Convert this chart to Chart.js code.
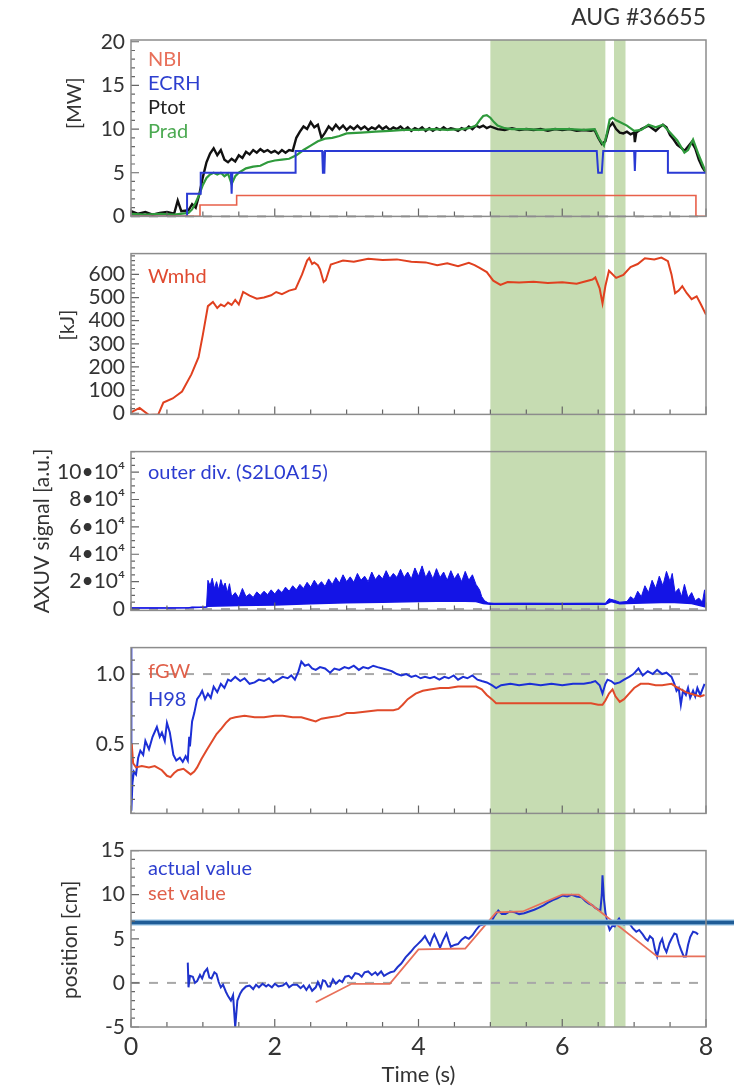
<!DOCTYPE html>
<html>
<head>
<meta charset="utf-8">
<script src="https://cdn.jsdelivr.net/npm/chart.js@4.4.1/dist/chart.umd.min.js"></script>
<style>
  body { margin: 0; background: #fff; }
  #wrap { position: relative; width: 742px; height: 1091px; }
  #wrap canvas { position: absolute; left: 0; }
</style>
</head>
<body>
<div id="wrap">
  <canvas id="power" width="742" height="235" style="top:0px"></canvas>
  <canvas id="energy" width="742" height="198" style="top:235px"></canvas>
  <canvas id="axuv" width="742" height="196" style="top:433px"></canvas>
  <canvas id="ratio" width="742" height="203" style="top:629px"></canvas>
  <canvas id="position" width="742" height="259" style="top:832px"></canvas>
</div>
<script>
// time windows shaded green (s)
const bandStart = [5.0, 6.72];
const bandEnd = [6.6, 6.88];

// tick labels
const timeTicks = [0, 2, 4, 6, 8];
const powerTicks = [0, 5, 10, 15, 20];
const energyTicks = [0, 100, 200, 300, 400, 500, 600];
const axuvTicks = [0, 20000, 40000, 60000, 80000, 100000];
const ratioTicks = [0.5, 1.0];
const positionTicks = [-5, 0, 5, 10, 15];

// heating power [MW], pairs of [time, value]
const nbi = [[0,0],[0.96,0],[0.96,1.3],[1.47,1.3],[1.47,2.4],[7.86,2.4],[7.86,0],[8,0]];
const ecrh = [[0,0],[0.78,0],[0.78,2.6],[0.97,2.6],[0.97,5.0],[1.39,5.0],[1.40,2.6],[1.41,5.0],[2.29,5.0],[2.29,7.5],
  [2.66,7.5],[2.67,5.0],[2.69,5.0],[2.70,7.5],[6.48,7.5],[6.50,5.0],[6.55,5.0],[6.57,7.5],[7.00,7.5],[7.01,5.2],
  [7.02,7.5],[7.47,7.5],[7.47,5.0],[8.0,5.0]];
const ptot = [[0,0.6],[0.1,0.3],[0.2,0.5],[0.3,0.2],[0.4,0.4],[0.5,0.5],[0.6,0.3],[0.65,1.8],[0.7,0.6],[0.8,0.7],
  [0.85,1.4],[0.9,1.0],[0.95,2.5],[1.0,4.5],[1.05,6.2],[1.1,7.2],[1.15,7.8],[1.2,7.0],[1.25,7.6],[1.3,6.5],
  [1.35,6.2],[1.4,6.6],[1.45,6.3],[1.5,7.0],[1.55,6.7],[1.6,7.4],[1.65,7.1],[1.7,7.6],[1.75,7.3],[1.8,7.7],
  [1.85,7.4],[1.9,7.6],[1.95,7.3],[2.0,7.5],[2.05,7.2],[2.1,7.6],[2.15,7.3],[2.2,7.6],[2.25,7.5],[2.3,9.0],
  [2.35,9.7],[2.4,10.3],[2.45,10.0],[2.5,10.8],[2.55,10.2],[2.6,10.5],[2.65,9.0],[2.7,9.6],[2.75,10.3],[2.8,9.9],
  [2.85,10.5],[2.9,10.0],[2.95,10.4],[3.0,9.9],[3.05,10.3],[3.1,10.0],[3.15,10.4],[3.2,10.0],[3.25,10.3],[3.3,9.9],
  [3.35,10.2],[3.4,10.0],[3.45,10.4],[3.5,10.0],[3.55,10.3],[3.6,9.9],[3.65,10.2],[3.7,10.0],[3.75,10.3],[3.8,9.9],
  [3.85,10.2],[3.9,9.8],[3.95,10.1],[4.0,9.9],[4.05,10.2],[4.1,9.8],[4.15,10.1],[4.2,9.8],[4.25,10.1],[4.3,9.9],
  [4.35,10.2],[4.4,9.9],[4.45,10.1],[4.5,10.0],[4.55,9.8],[4.6,10.1],[4.65,9.9],[4.7,10.3],[4.75,10.0],[4.8,10.4],
  [4.85,10.2],[4.9,10.4],[4.95,10.1],[5.0,10.3],[5.1,10.0],[5.2,9.9],[5.3,10.1],[5.4,9.9],[5.5,10.0],[5.6,9.9],
  [5.7,10.0],[5.8,9.8],[5.9,10.0],[6.0,9.9],[6.1,10.0],[6.2,9.8],[6.3,9.9],[6.4,9.8],[6.45,9.9],[6.5,9.0],
  [6.55,8.3],[6.6,8.6],[6.65,10.2],[6.7,10.7],[6.75,10.0],[6.8,9.6],[6.85,9.5],[6.9,9.7],[6.95,9.4],[7.0,9.6],
  [7.01,8.5],[7.03,9.6],[7.1,10.0],[7.2,10.4],[7.25,10.1],[7.3,9.8],[7.35,10.2],[7.4,10.5],[7.45,10.2],[7.5,9.3],
  [7.55,8.8],[7.6,8.2],[7.65,7.9],[7.7,7.5],[7.75,8.0],[7.8,8.5],[7.85,7.8],[7.9,6.5],[7.95,5.6],[8.0,5.0]];
const prad = [[0,0.3],[0.2,0.2],[0.4,0.3],[0.6,0.2],[0.8,0.4],[0.85,0.8],[0.9,1.6],[0.95,2.5],[1.0,3.6],[1.05,4.4],
  [1.1,4.8],[1.15,5.0],[1.2,4.8],[1.25,5.0],[1.3,4.6],[1.35,4.9],[1.4,3.7],[1.45,4.6],[1.5,5.0],[1.6,5.5],
  [1.7,5.7],[1.8,5.8],[1.9,6.2],[2.0,6.4],[2.1,6.5],[2.2,6.6],[2.3,7.0],[2.4,7.6],[2.5,8.1],[2.6,8.6],
  [2.7,8.9],[2.8,9.0],[2.9,9.2],[3.0,9.5],[3.2,9.6],[3.4,9.7],[3.6,9.8],[3.8,9.9],[4.0,9.9],[4.2,10.0],
  [4.4,9.9],[4.6,10.0],[4.7,10.1],[4.8,10.4],[4.85,11.0],[4.9,11.5],[4.95,11.6],[5.0,11.3],[5.05,10.8],[5.1,10.4],
  [5.2,10.1],[5.3,10.0],[5.5,10.0],[5.7,9.9],[5.9,10.0],[6.1,10.0],[6.3,9.9],[6.45,10.0],[6.52,8.8],[6.58,8.1],
  [6.62,9.5],[6.66,11.1],[6.7,11.3],[6.75,11.0],[6.8,10.8],[6.9,10.4],[7.0,9.8],[7.1,9.9],[7.2,10.5],[7.3,10.2],
  [7.4,10.5],[7.5,9.6],[7.6,8.7],[7.7,7.3],[7.75,7.6],[7.82,8.8],[7.9,7.0],[8.0,5.0]];

// stored energy [kJ]
const wmhd = [[0,4],[0.12,23],[0.25,-8],[0.38,-5],[0.45,46],[0.58,64],[0.71,94],[0.84,168],[0.94,242],[1.0,340],
  [1.07,463],[1.14,481],[1.2,455],[1.25,470],[1.3,462],[1.35,478],[1.4,468],[1.45,490],[1.5,470],[1.56,524],
  [1.65,508],[1.75,495],[1.85,500],[1.95,510],[2.02,524],[2.1,515],[2.2,530],[2.29,537],[2.38,600],[2.45,660],
  [2.48,671],[2.52,645],[2.55,652],[2.6,640],[2.63,622],[2.68,567],[2.71,575],[2.78,643],[2.85,650],[2.95,660],
  [3.1,655],[3.3,668],[3.5,662],[3.7,665],[3.9,655],[4.1,652],[4.26,640],[4.4,648],[4.55,636],[4.7,650],
  [4.78,640],[4.85,628],[4.95,610],[5.04,573],[5.14,555],[5.24,567],[5.4,565],[5.6,568],[5.8,563],[6.0,566],
  [6.2,560],[6.42,578],[6.46,587],[6.52,540],[6.56,475],[6.6,550],[6.65,616],[6.75,585],[6.85,598],[6.95,632],
  [7.05,645],[7.15,670],[7.28,665],[7.38,673],[7.47,657],[7.52,600],[7.57,519],[7.62,530],[7.67,549],[7.73,520],
  [7.8,493],[7.87,505],[7.93,470],[8.0,426]];

// AXUV outer divertor signal [a.u.]: spiky upper edge and lower edge
const axuvHigh = [[0,800],[0.5,700],[0.8,900],[0.85,1500],[0.95,1200],[1.05,1500],[1.07,21000],[1.1,17000],
  [1.13,22500],[1.16,15000],[1.19,20000],[1.22,14000],[1.25,21500],[1.28,16000],[1.31,19000],[1.34,12000],
  [1.37,18500],[1.4,9000],[1.45,12000],[1.5,8000],[1.55,15000],[1.6,9000],[1.65,11000],[1.7,8500],[1.75,12500],
  [1.8,10000],[1.85,13000],[1.9,10500],[1.95,14000],[2.0,11000],[2.05,14500],[2.1,12000],[2.15,16000],[2.2,13000],
  [2.25,17000],[2.3,14000],[2.35,18000],[2.4,15000],[2.45,19500],[2.5,16000],[2.55,21000],[2.6,17000],[2.65,20000],
  [2.7,16500],[2.75,22000],[2.8,18000],[2.85,23000],[2.9,19000],[2.95,25000],[3.0,20000],[3.05,23500],[3.1,19500],
  [3.15,26000],[3.2,21000],[3.25,24000],[3.3,20000],[3.35,27000],[3.4,21500],[3.45,25000],[3.5,22000],[3.55,28000],
  [3.6,22500],[3.65,26000],[3.7,23000],[3.75,29000],[3.8,23000],[3.85,27000],[3.9,22000],[3.95,30000],[4.0,24000],
  [4.05,31500],[4.1,23000],[4.15,28000],[4.2,22000],[4.25,29500],[4.3,23000],[4.35,27000],[4.4,21000],[4.45,28000],
  [4.5,22000],[4.55,26000],[4.6,20000],[4.65,27500],[4.7,21000],[4.75,25000],[4.8,18000],[4.85,14000],[4.88,9000],
  [4.92,6000],[4.97,4500],[5.05,4200],[5.5,4300],[6.0,4200],[6.5,4300],[6.6,4200],[6.65,7500],[6.72,6500],
  [6.8,5000],[6.9,5500],[6.95,9000],[7.0,7000],[7.05,13000],[7.1,9000],[7.15,17000],[7.2,12000],[7.25,21000],
  [7.3,15000],[7.35,24000],[7.4,17000],[7.45,27500],[7.5,20000],[7.53,26000],[7.57,12000],[7.62,15000],[7.66,9000],
  [7.7,18000],[7.75,8000],[7.8,12000],[7.85,6000],[7.9,8000],[7.95,5000],[7.98,14000],[8.0,4000]];
const axuvLow = [[0,800],[0.8,900],[1.05,1500],[1.07,2000],[1.5,2500],[2.0,3000],[2.5,3800],[3.0,4500],[3.5,5000],
  [4.0,5500],[4.5,5800],[4.8,5500],[4.9,4000],[5.0,3500],[6.6,3500],[6.68,5500],[6.8,3800],[7.0,4200],[7.5,5000],
  [7.8,4000],[8.0,1500]];

// Greenwald fraction and confinement factor
const fgw = [[0.01,0.5],[0.03,0.36],[0.07,0.33],[0.15,0.34],[0.25,0.33],[0.33,0.34],[0.43,0.31],[0.5,0.27],[0.55,0.26],
  [0.6,0.29],[0.65,0.31],[0.73,0.32],[0.78,0.3],[0.83,0.28],[0.88,0.3],[0.92,0.33],[0.98,0.39],[1.06,0.46],[1.12,0.51],
  [1.19,0.57],[1.26,0.61],[1.32,0.65],[1.38,0.68],[1.45,0.69],[1.58,0.7],[1.72,0.69],[1.85,0.69],[2.0,0.7],[2.11,0.7],
  [2.25,0.69],[2.37,0.69],[2.5,0.67],[2.57,0.66],[2.65,0.68],[2.77,0.69],[2.9,0.7],[3.0,0.72],[3.1,0.72],[3.25,0.73],
  [3.43,0.74],[3.55,0.74],[3.65,0.74],[3.72,0.75],[3.78,0.78],[3.85,0.82],[3.96,0.86],[4.06,0.88],[4.16,0.89],[4.3,0.9],
  [4.42,0.9],[4.55,0.91],[4.68,0.91],[4.8,0.91],[4.88,0.89],[4.95,0.85],[5.02,0.82],[5.08,0.79],[5.2,0.79],[5.4,0.79],
  [5.6,0.79],[5.8,0.79],[6.0,0.79],[6.2,0.79],[6.4,0.79],[6.5,0.78],[6.56,0.78],[6.6,0.81],[6.65,0.86],[6.7,0.89],
  [6.74,0.84],[6.8,0.8],[6.86,0.82],[6.93,0.86],[7.0,0.9],[7.09,0.93],[7.2,0.93],[7.3,0.92],[7.39,0.92],[7.52,0.93],
  [7.58,0.91],[7.65,0.89],[7.72,0.87],[7.78,0.86],[7.85,0.85],[7.92,0.84],[7.98,0.85]];
const h98 = [[0,1.2],[0.005,0.02],[0.02,0.22],[0.04,0.3],[0.07,0.28],[0.1,0.4],[0.13,0.45],[0.17,0.42],[0.2,0.52],
  [0.25,0.46],[0.3,0.55],[0.36,0.62],[0.4,0.55],[0.43,0.58],[0.47,0.52],[0.5,0.65],[0.54,0.58],[0.59,0.42],[0.63,0.38],
  [0.68,0.4],[0.72,0.37],[0.76,0.41],[0.79,0.38],[0.81,0.55],[0.82,0.48],[0.85,0.66],[0.88,0.72],[0.92,0.82],[0.96,0.85],
  [0.99,0.88],[1.03,0.82],[1.07,0.86],[1.11,0.83],[1.15,0.91],[1.2,0.87],[1.25,0.93],[1.3,0.9],[1.35,0.96],[1.39,0.95],
  [1.45,0.98],[1.52,0.95],[1.58,0.97],[1.65,0.93],[1.72,0.94],[1.78,0.96],[1.85,0.95],[1.92,0.97],[1.98,0.94],[2.05,0.96],
  [2.11,0.98],[2.18,0.97],[2.23,0.99],[2.28,0.96],[2.33,1.02],[2.37,1.09],[2.42,1.06],[2.47,1.07],[2.52,1.04],[2.57,1.03],
  [2.63,1.05],[2.7,1.04],[2.77,1.01],[2.83,1.04],[2.9,1.03],[2.97,1.05],[3.03,1.04],[3.1,1.06],[3.17,1.03],[3.23,1.05],
  [3.3,1.04],[3.37,1.06],[3.43,1.05],[3.5,1.04],[3.57,1.03],[3.63,1.02],[3.7,1.0],[3.76,0.99],[3.83,1.0],[3.9,0.98],
  [3.96,0.99],[4.03,0.97],[4.09,0.98],[4.16,0.97],[4.22,0.98],[4.29,0.96],[4.36,0.98],[4.42,0.97],[4.49,0.99],[4.55,0.96],
  [4.62,0.98],[4.68,0.97],[4.75,0.99],[4.82,0.96],[4.88,0.95],[4.95,0.94],[5.02,0.92],[5.08,0.9],[5.15,0.92],[5.28,0.93],
  [5.4,0.92],[5.55,0.93],[5.7,0.92],[5.85,0.93],[6.0,0.92],[6.15,0.93],[6.3,0.93],[6.4,0.94],[6.46,0.95],[6.52,0.92],
  [6.56,0.86],[6.6,0.93],[6.63,0.96],[6.68,0.95],[6.73,0.93],[6.8,0.94],[6.86,0.96],[6.93,0.98],[6.99,1.0],[7.06,1.04],
  [7.12,0.99],[7.19,1.02],[7.26,1.0],[7.32,1.03],[7.39,1.0],[7.45,1.01],[7.52,0.98],[7.56,0.93],[7.59,0.88],[7.62,0.9],
  [7.65,0.78],[7.68,0.88],[7.72,0.85],[7.75,0.9],[7.78,0.83],[7.82,0.88],[7.85,0.84],[7.88,0.9],[7.92,0.85],[7.95,0.89],
  [7.98,0.93]];

// strike point position [cm]
const posActual = [[0.79,2.3],[0.8,-0.5],[0.82,0.8],[0.86,0.7],[0.89,0.0],[0.92,0.2],[0.96,0.9],[0.99,0.5],[1.02,1.2],
  [1.06,1.6],[1.09,0.6],[1.12,0.5],[1.16,1.2],[1.19,1.0],[1.22,0.1],[1.25,-0.5],[1.28,-0.2],[1.32,-1.0],[1.35,-1.5],
  [1.39,-2.0],[1.42,-1.4],[1.45,-5.0],[1.48,-2.0],[1.52,-1.2],[1.55,-0.8],[1.6,-0.4],[1.65,-0.3],[1.7,-0.7],[1.74,-0.2],
  [1.78,-0.5],[1.83,-0.1],[1.88,-0.4],[1.91,-0.2],[1.96,-0.5],[2.0,-0.1],[2.05,-0.4],[2.11,-0.3],[2.16,0.0],[2.2,-0.5],
  [2.25,-0.2],[2.31,-0.2],[2.36,-0.6],[2.4,-0.3],[2.44,-0.8],[2.48,-0.3],[2.52,-0.9],[2.57,-0.5],[2.6,0.1],[2.64,-0.6],
  [2.67,0.3],[2.7,0.2],[2.74,-0.4],[2.77,-0.4],[2.81,0.4],[2.85,-0.1],[2.9,0.3],[2.94,0.1],[2.98,0.7],[3.03,0.8],
  [3.07,0.5],[3.12,1.1],[3.17,1.0],[3.21,0.7],[3.25,1.2],[3.3,1.3],[3.35,0.9],[3.4,1.2],[3.43,0.9],[3.48,1.3],
  [3.52,0.8],[3.56,1.0],[3.61,1.2],[3.66,1.3],[3.71,1.8],[3.76,2.2],[3.82,2.9],[3.89,3.5],[3.94,4.0],[3.99,4.4],
  [4.04,4.8],[4.09,5.3],[4.13,4.7],[4.16,4.3],[4.19,5.0],[4.22,5.5],[4.26,4.8],[4.3,4.0],[4.34,4.8],[4.39,5.6],
  [4.42,4.8],[4.45,4.1],[4.5,4.3],[4.55,4.4],[4.6,4.9],[4.65,5.2],[4.7,5.0],[4.75,5.4],[4.8,6.0],[4.85,6.5],
  [4.9,6.6],[4.95,6.9],[5.0,6.7],[5.05,7.5],[5.11,8.2],[5.16,7.8],[5.21,7.8],[5.27,8.1],[5.34,8.0],[5.4,7.8],
  [5.47,7.9],[5.54,8.1],[5.61,8.3],[5.67,8.5],[5.74,8.8],[5.8,9.1],[5.87,9.4],[5.93,9.6],[6.0,9.9],[6.07,9.8],
  [6.13,10.0],[6.2,9.8],[6.27,9.7],[6.32,9.3],[6.37,9.0],[6.42,8.8],[6.46,8.5],[6.5,8.3],[6.53,8.2],[6.55,10.0],
  [6.56,12.2],[6.58,9.5],[6.6,8.0],[6.63,6.8],[6.66,6.0],[6.7,6.5],[6.73,6.4],[6.76,7.0],[6.79,7.3],[6.83,6.7],
  [6.86,6.6],[6.9,6.9],[6.93,6.8],[6.98,6.2],[7.03,5.8],[7.07,6.0],[7.12,5.5],[7.16,5.0],[7.19,4.8],[7.22,5.3],
  [7.26,5.0],[7.29,3.8],[7.32,3.0],[7.36,4.5],[7.39,5.0],[7.42,4.0],[7.45,3.5],[7.49,4.5],[7.52,5.0],[7.56,5.6],
  [7.59,5.5],[7.62,4.5],[7.65,3.8],[7.69,3.0],[7.72,3.0],[7.75,4.3],[7.78,5.2],[7.82,5.8],[7.86,5.7],[7.89,5.5]];
const posSet = [[2.57,-2.2],[3.07,-0.1],[3.6,-0.1],[4.0,3.8],[4.65,3.9],[5.08,8.0],[5.45,8.1],[6.0,10.0],[6.23,10.0],
  [7.32,3.0],[8.0,3.0]];
const limitPosition = 6.85;

Chart.defaults.font.family = 'Lato, "Open Sans", sans-serif';
Chart.defaults.color = '#333';

const bandColor = '#c6dcb2';
const frameColor = '#8c8c8c';

// shading, frame, inward ticks, reference lines and in-panel labels
const panelDecor = {
  id: 'panelDecor',
  beforeDatasetsDraw(chart, args, opts) {
    const {ctx, chartArea: a, scales: {x, y}} = chart;
    ctx.save();
    ctx.fillStyle = bandColor;
    const top = opts.first ? a.top : 0;
    const bottom = opts.last ? a.bottom : chart.height;
    bandStart.forEach((s, i) => {
      const x1 = x.getPixelForValue(s);
      const x2 = x.getPixelForValue(bandEnd[i]);
      ctx.fillRect(x1, top, x2 - x1, bottom - top);
    });
    if (opts.refLine !== undefined) {
      const yy = y.getPixelForValue(opts.refLine);
      ctx.strokeStyle = '#a8a8a8';
      ctx.lineWidth = 2;
      ctx.setLineDash([9, 9]);
      ctx.beginPath();
      ctx.moveTo(a.left, yy);
      ctx.lineTo(a.right, yy);
      ctx.stroke();
    }
    ctx.restore();
  },
  afterDatasetsDraw(chart, args, opts) {
    const {ctx, chartArea: a, scales: {x, y}} = chart;
    ctx.save();
    if (opts.hLine !== undefined) {
      const yy = y.getPixelForValue(opts.hLine);
      ctx.strokeStyle = '#8fbde0';
      ctx.lineWidth = 6;
      ctx.beginPath();
      ctx.moveTo(a.left, yy);
      ctx.lineTo(chart.width - 8, yy);
      ctx.stroke();
      ctx.strokeStyle = '#1f5c96';
      ctx.lineWidth = 3.5;
      ctx.stroke();
    }
    // ticks pointing into the plot
    ctx.strokeStyle = '#666';
    ctx.lineWidth = 1.2;
    ctx.beginPath();
    for (let t = 0; t <= 8.001; t += 0.5) {
      const px = x.getPixelForValue(t);
      const len = t % 2 === 0 ? 8 : 5;
      ctx.moveTo(px, a.bottom);
      ctx.lineTo(px, a.bottom - len);
    }
    const step = opts.minorY;
    for (let v = Math.ceil(y.min / step) * step; v <= y.max; v += step) {
      const py = y.getPixelForValue(v);
      ctx.moveTo(a.left, py);
      ctx.lineTo(a.left + 4, py);
    }
    y.ticks.forEach(tk => {
      const py = y.getPixelForValue(tk.value);
      ctx.moveTo(a.left, py);
      ctx.lineTo(a.left + 8, py);
    });
    ctx.stroke();
    ctx.strokeStyle = frameColor;
    ctx.lineWidth = 1.5;
    ctx.strokeRect(a.left, a.top, a.right - a.left, a.bottom - a.top);
    // labels
    ctx.textAlign = 'left';
    ctx.textBaseline = 'middle';
    (opts.labels || []).forEach(l => {
      ctx.font = (l.size || 20) + 'px ' + Chart.defaults.font.family;
      ctx.fillStyle = l.color;
      ctx.fillText(l.text, a.left + 17, a.top + l.dy);
    });
    if (opts.yTitle) {
      const t = opts.yTitle;
      ctx.font = t.size + 'px ' + Chart.defaults.font.family;
      ctx.fillStyle = '#333';
      ctx.textAlign = 'center';
      ctx.translate(t.x, (a.top + a.bottom) / 2 + t.dy);
      ctx.rotate(-Math.PI / 2);
      ctx.fillText(t.text, 0, 0);
    }
    ctx.restore();
  }
};

function line(data, color, width) {
  return {
    data: data.map(([t, v]) => ({x: t, y: v})),
    borderColor: color,
    borderWidth: width,
    pointRadius: 0,
    tension: 0,
    fill: false
  };
}

function yAxis(min, max, ticks, fmt) {
  return {
    min: min,
    max: max,
    afterBuildTicks: s => { s.ticks = ticks.map(v => ({value: v})); },
    afterFit: s => { s.width = 131; },
    grid: {display: false, drawTicks: false},
    border: {display: false},
    ticks: {
      font: {size: 21},
      color: '#333',
      padding: 6,
      callback: fmt || (v => v)
    }
  };
}

function xAxis(show) {
  return {
    type: 'linear',
    min: 0,
    max: 8,
    display: show,
    afterBuildTicks: s => { s.ticks = timeTicks.map(v => ({value: v})); },
    afterFit: s => { if (show) s.height = 64; },
    grid: {display: false, drawTicks: false},
    border: {display: false},
    ticks: {font: {size: 25}, color: '#333', padding: 5, maxRotation: 0},
    title: {display: show, text: 'Time (s)', font: {size: 22}, color: '#333', padding: {top: 0, bottom: 3}}
  };
}

function makeChart(id, datasets, y, pad, decor, title) {
  return new Chart(document.getElementById(id), {
    type: 'line',
    data: {datasets: datasets},
    plugins: [panelDecor],
    options: {
      responsive: false,
      animation: false,
      layout: {padding: pad},
      scales: {x: xAxis(id === 'position'), y: y},
      plugins: {
        legend: {display: false},
        tooltip: {enabled: false},
        title: title || {display: false},
        panelDecor: decor
      }
    }
  });
}

makeChart('power',
  [line(nbi, '#e8604a', 1.6), line(ecrh, '#2a3ad4', 2), line(prad, '#2f9a3c', 2.2), line(ptot, '#111', 2.4)],
  yAxis(0, 20.2, powerTicks),
  {left: 0, right: 36, top: 0, bottom: 8},
  {first: true, refLine: 0, minorY: 1,
   labels: [{text: 'NBI', color: '#e8705a', dy: 20}, {text: 'ECRH', color: '#2d3fcf', dy: 44},
            {text: 'Ptot', color: '#222', dy: 68}, {text: 'Prad', color: '#4caa52', dy: 92}],
   yTitle: {text: '[MW]', x: 75, dy: -25, size: 20}},
  {display: true, text: 'AUG #36655', align: 'end', color: '#333', font: {size: 23, weight: 'normal'},
   padding: {top: 4, bottom: 8.4}});

makeChart('energy',
  [line(wmhd, '#e0401f', 2)],
  yAxis(-5, 690, energyTicks),
  {left: 0, right: 36, top: 7, bottom: 4},
  {minorY: 20, labels: [{text: 'Wmhd', color: '#e04a30', dy: 23}],
   yTitle: {text: '[kJ]', x: 68, dy: -9, size: 20}});

const axuvHi = line(axuvHigh, '#1414e6', 1);
axuvHi.fill = '-1';
axuvHi.backgroundColor = '#1414e6';
makeChart('axuv',
  [line(axuvLow, '#1414e6', 1.5), axuvHi],
  yAxis(-1000, 115000, axuvTicks, v => v === 0 ? '0' : (v / 10000) + '•10⁴'),
  {left: 0, right: 36, top: 4, bottom: 8},
  {refLine: 0, minorY: 5000, labels: [{text: 'outer div. (S2L0A15)', color: '#2b3bd0', dy: 21}],
   yTitle: {text: 'AXUV signal [a.u.]', x: 42, dy: 0, size: 21}});

makeChart('ratio',
  [line(fgw, '#e04a2a', 2), line(h98, '#1c2fd6', 2)],
  yAxis(0, 1.19, ratioTicks, v => v.toFixed(1)),
  {left: 0, right: 36, top: 9, bottom: 8},
  {refLine: 1.0, minorY: 0.1,
   labels: [{text: 'fGW', color: '#e0604a', dy: 24}, {text: 'H98', color: '#2d3fcf', dy: 52}]});

makeChart('position',
  [line(posSet, '#e8705a', 1.8), line(posActual, '#1f33cc', 2)],
  yAxis(-5, 15, positionTicks),
  {left: 0, right: 36, top: 8, bottom: 0},
  {last: true, refLine: 0, minorY: 1, hLine: limitPosition,
   labels: [{text: 'actual value', color: '#2d3fcf', dy: 18}, {text: 'set value', color: '#e0604a', dy: 43}],
   yTitle: {text: 'position [cm]', x: 70, dy: 1, size: 21}});
</script>
</body>
</html>
